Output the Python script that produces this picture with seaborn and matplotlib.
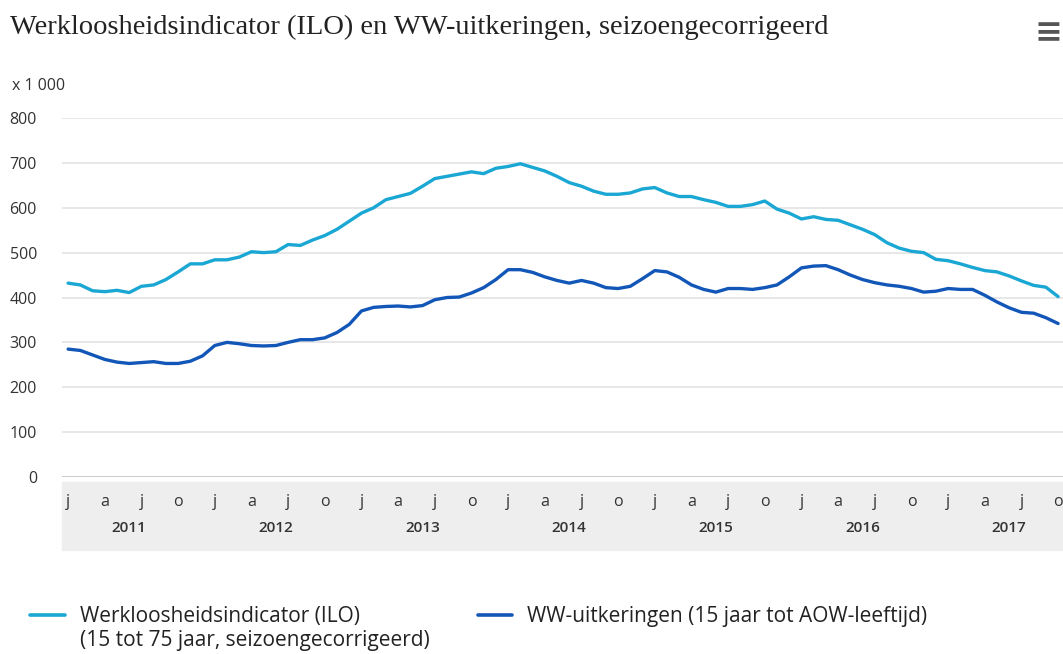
import matplotlib
matplotlib.use("Agg")
import matplotlib.pyplot as plt
import matplotlib.patches as mpatches
from matplotlib.lines import Line2D
import pandas as pd
import seaborn as sns

# monthly values, jan 2011 - okt 2017 (x 1 000)
ilo = [432, 428, 415, 413, 416, 411, 425, 428, 440, 457, 475, 475,
       484, 484, 490, 502, 500, 502, 518, 516, 528, 538, 552, 570,
       588, 600, 618, 625, 632, 648, 665, 670, 675, 680, 676, 688,
       692, 698, 690, 682, 670, 656, 648, 637, 630, 630, 633, 642,
       645, 633, 625, 625, 618, 612, 603, 603, 607, 615, 597, 588,
       575, 580, 574, 572, 562, 552, 540, 522, 510, 503, 500, 485,
       482, 475, 467, 460, 457, 448, 437, 427, 423, 402]
ww = [285, 282, 272, 262, 256, 253, 255, 257, 253, 253, 258, 270,
      293, 300, 297, 293, 292, 293, 300, 306, 306, 310, 322, 340,
      370, 378, 380, 381, 379, 382, 395, 400, 401, 410, 422, 440,
      462, 462, 456, 446, 438, 432, 438, 432, 422, 420, 425, 442,
      460, 457, 445, 428, 418, 412, 420, 420, 418, 422, 428, 446,
      466, 470, 471, 462, 450, 440, 433, 428, 425, 420, 412, 414,
      420, 418, 418, 405, 390, 377, 367, 365, 355, 342]
years = ["2011", "2012", "2013", "2014", "2015", "2016", "2017"]
month_letters = ["j", "a", "j", "o"]
yticks = [0, 100, 200, 300, 400, 500, 600, 700, 800]

label_ilo = "Werkloosheidsindicator (ILO)\n(15 tot 75 jaar, seizoengecorrigeerd)"
label_ww = "WW-uitkeringen (15 jaar tot AOW-leeftijd)"

df = pd.DataFrame({
    "maand": list(range(len(ilo))) * 2,
    "waarde": ilo + ww,
    "reeks": [label_ilo] * len(ilo) + [label_ww] * len(ww),
})

sns.set_style("white")
plt.rcParams["font.family"] = ["Open Sans", "DejaVu Sans"]

W, H = 1063, 654
fig = plt.figure(figsize=(W / 100, H / 100), dpi=100)
ax = fig.add_axes([62 / W, 1 - 477 / H, 1 - 62 / W, (477 - 118) / H])

# gray band behind the x labels
band = mpatches.Rectangle((62 / W, 1 - 550 / H), 1 - 62 / W, (550 - 482) / H,
                          transform=fig.transFigure, color="#eeeeee", zorder=-5)
fig.patches.append(band)

palette = {label_ilo: "#1aa7d4", label_ww: "#1257b8"}
sns.lineplot(data=df, x="maand", y="waarde", hue="reeks", palette=palette,
             linewidth=2.4, ax=ax, legend=False)

ax.set_xlim(-0.5, 81.4)
ax.set_ylim(0, 800)
ax.set_yticks(yticks)
ax.set_yticklabels([str(v) for v in yticks])
ax.grid(axis="y", color="#e3e3e3", linewidth=1.2)
ax.axhline(0, color="#c8c8c8", linewidth=2)
ax.patch.set_alpha(0)
for s in ax.spines.values():
    s.set_visible(False)

major = list(range(0, len(ilo), 3))
ax.set_xticks(major)
ax.set_xticklabels([month_letters[(m // 3) % 4] for m in major])
ax.set_xticks([12 * k + 5 for k in range(len(years))], minor=True)
ax.set_xticklabels(years, minor=True, fontweight="semibold")
ax.tick_params(axis="x", which="major", length=0, pad=12, labelsize=11.5, labelcolor="#333333")
ax.tick_params(axis="x", which="minor", length=0, pad=32, labelsize=11, labelcolor="#333333")
ax.tick_params(axis="y", length=0, pad=18, labelsize=11.5, labelcolor="#333333")
ax.set_xlabel("")
ax.set_ylabel("")

fig.text(10 / W, 1 - 27 / H, "Werkloosheidsindicator (ILO) en WW-uitkeringen, seizoengecorrigeerd",
         family=["Liberation Serif"], fontsize=20.5, color="#222222", va="center", ha="left")
fig.text(12 / W, 1 - 86 / H, "x 1 000", fontsize=11.5, color="#333333", va="center", ha="left")
fig.text(1063 / W, 1 - 33 / H, "\u2261", fontsize=24, color="#555555", va="center", ha="right",
         family=["DejaVu Sans"], fontweight="bold")

# legend, first lines aligned like the reference
for x0, x1, tx, lab, col in [(30, 65, 80, label_ilo, palette[label_ilo]),
                             (478, 512, 527, label_ww, palette[label_ww])]:
    fig.add_artist(Line2D([x0 / W, x1 / W], [1 - 615 / H] * 2, color=col, linewidth=2.6,
                          transform=fig.transFigure))
    fig.text(tx / W, 1 - 606 / H, lab, fontsize=15, color="#222222", va="top", ha="left",
             linespacing=1.2)

fig.savefig("out.png", dpi=100)
